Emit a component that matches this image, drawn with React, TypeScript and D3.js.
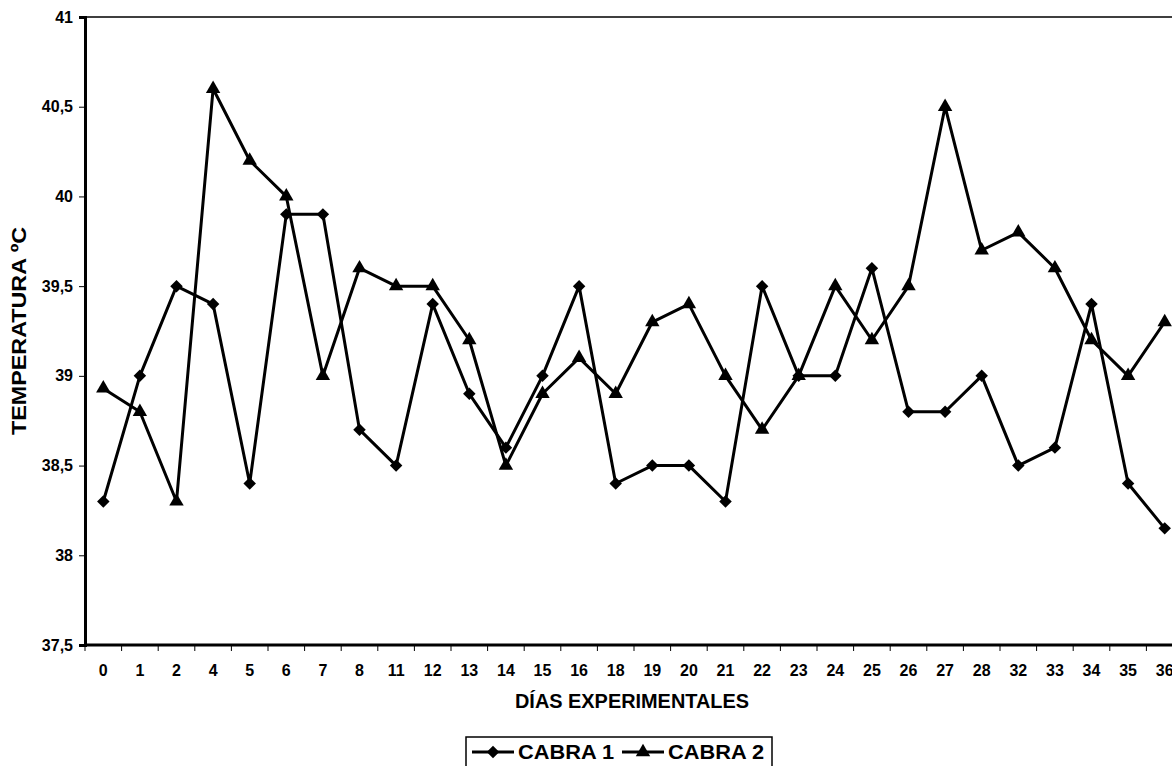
import React, { useEffect, useRef } from "react";
import * as d3 from "d3";

// días experimentales (eje X)
const days = ["0", "1", "2", "4", "5", "6", "7", "8", "11", "12", "13", "14", "15", "16", "18",
  "19", "20", "21", "22", "23", "24", "25", "26", "27", "28", "32", "33", "34", "35", "36"];

// temperatura rectal, ºC
const cabra1 = [38.3, 39.0, 39.5, 39.4, 38.4, 39.9, 39.9, 38.7, 38.5, 39.4, 38.9, 38.6, 39.0, 39.5, 38.4,
  38.5, 38.5, 38.3, 39.5, 39.0, 39.0, 39.6, 38.8, 38.8, 39.0, 38.5, 38.6, 39.4, 38.4, 38.15];
const cabra2 = [38.93, 38.8, 38.3, 40.6, 40.2, 40.0, 39.0, 39.6, 39.5, 39.5, 39.2, 38.5, 38.9, 39.1, 38.9,
  39.3, 39.4, 39.0, 38.7, 39.0, 39.5, 39.2, 39.5, 40.5, 39.7, 39.8, 39.6, 39.2, 39.0, 39.3];

const yTicks = [37.5, 38, 38.5, 39, 39.5, 40, 40.5, 41];
const seriesNames = ["CABRA 1", "CABRA 2"];

const W = 1172;
const H = 766;
const FONT = "'Liberation Sans', Arial, sans-serif";

// rombo más ancho que el de d3 (como el marcador de Excel)
const wideDiamond = {
  draw(ctx, size) {
    const r = Math.sqrt(size / 2);
    ctx.moveTo(0, -r);
    ctx.lineTo(r, 0);
    ctx.lineTo(0, r);
    ctx.lineTo(-r, 0);
    ctx.closePath();
  },
};

const App = () => {
  const ref = useRef(null);

  useEffect(() => {
    const svg = d3.select(ref.current);
    svg.selectAll("*").remove();

    const left = 85, top = 17, bottom = 645;
    const band = 36.6;

    const x = d3.scaleBand().domain(days).range([left, left + band * days.length]);
    const y = d3.scaleLinear().domain([37.5, 41]).range([bottom, top]);
    const cx = (d) => x(d) + x.bandwidth() / 2;

    // marco del área de trazado
    svg.append("rect")
      .attr("x", left).attr("y", top)
      .attr("width", x.range()[1] - left).attr("height", bottom - top)
      .attr("fill", "none").attr("stroke", "#000").attr("stroke-width", 1.5);

    // eje Y
    const yAxis = svg.append("g")
      .attr("transform", `translate(${left},0)`)
      .call(d3.axisLeft(y).tickValues(yTicks).tickSize(6).tickPadding(6)
        .tickFormat((d) => String(d).replace(".", ",")));
    yAxis.select(".domain").attr("stroke-width", 3);
    yAxis.selectAll("text")
      .attr("font-family", FONT).attr("font-weight", "bold").attr("font-size", 16).attr("fill", "#000");

    // eje X: marcas entre categorías y etiquetas centradas
    const xAxis = svg.append("g").attr("transform", `translate(0,${bottom})`);
    xAxis.append("line")
      .attr("x1", left).attr("x2", x.range()[1])
      .attr("stroke", "#000").attr("stroke-width", 3);
    xAxis.selectAll(".tk")
      .data(days.concat(["end"]))
      .enter().append("line")
      .attr("x1", (d, i) => left + i * x.bandwidth())
      .attr("x2", (d, i) => left + i * x.bandwidth())
      .attr("y1", 0).attr("y2", 6)
      .attr("stroke", "#000").attr("stroke-width", 1);
    xAxis.selectAll(".lbl")
      .data(days)
      .enter().append("text")
      .attr("x", (d) => cx(d))
      .attr("y", 31)
      .attr("text-anchor", "middle")
      .attr("font-family", FONT).attr("font-weight", "bold").attr("font-size", 16)
      .text((d) => d);

    // títulos de ejes
    svg.append("text")
      .attr("x", 632).attr("y", 708)
      .attr("text-anchor", "middle")
      .attr("font-family", FONT).attr("font-weight", "bold").attr("font-size", 20)
      .attr("textLength", 234).attr("lengthAdjust", "spacingAndGlyphs")
      .text("DÍAS EXPERIMENTALES");
    svg.append("text")
      .attr("transform", "translate(26,331) rotate(-90)")
      .attr("text-anchor", "middle")
      .attr("font-family", FONT).attr("font-weight", "bold").attr("font-size", 20)
      .attr("textLength", 208).attr("lengthAdjust", "spacingAndGlyphs")
      .text("TEMPERATURA ºC");

    const line = d3.line().x((d, i) => cx(days[i])).y((d) => y(d));
    const diamond = d3.symbol().type(wideDiamond).size(78);
    const triangle = d3.symbol().type(d3.symbolTriangle).size(90);

    const series = [
      { name: seriesNames[0], values: cabra1, sym: diamond },
      { name: seriesNames[1], values: cabra2, sym: triangle },
    ];

    series.forEach((s) => {
      svg.append("path")
        .datum(s.values)
        .attr("d", line)
        .attr("fill", "none").attr("stroke", "#000").attr("stroke-width", 3)
        .attr("stroke-linejoin", "round");
      svg.append("g")
        .selectAll("path")
        .data(s.values)
        .enter().append("path")
        .attr("d", s.sym)
        .attr("transform", (d, i) => `translate(${cx(days[i])},${y(d)})`)
        .attr("fill", "#000");
    });

    // leyenda
    const lg = svg.append("g").attr("transform", "translate(466,737)");
    lg.append("rect")
      .attr("width", 306).attr("height", 40)
      .attr("fill", "#fff").attr("stroke", "#000").attr("stroke-width", 1.5);
    const itemX = [6, 156];
    series.forEach((s, i) => {
      const g = lg.append("g").attr("transform", `translate(${itemX[i]},15)`);
      g.append("line").attr("x1", 0).attr("x2", 42).attr("stroke", "#000").attr("stroke-width", 3);
      g.append("path").attr("d", s.sym).attr("transform", "translate(21,0)").attr("fill", "#000");
      g.append("text")
        .attr("x", 46).attr("y", 7)
        .attr("font-family", FONT).attr("font-weight", "bold").attr("font-size", 20)
        .attr("textLength", 96).attr("lengthAdjust", "spacingAndGlyphs")
        .text(s.name);
    });
  }, []);

  return (
    <svg ref={ref} width={W} height={H}
      style={{ position: "absolute", left: 0, top: 0, background: "#fff", display: "block" }} />
  );
};

export default App;
